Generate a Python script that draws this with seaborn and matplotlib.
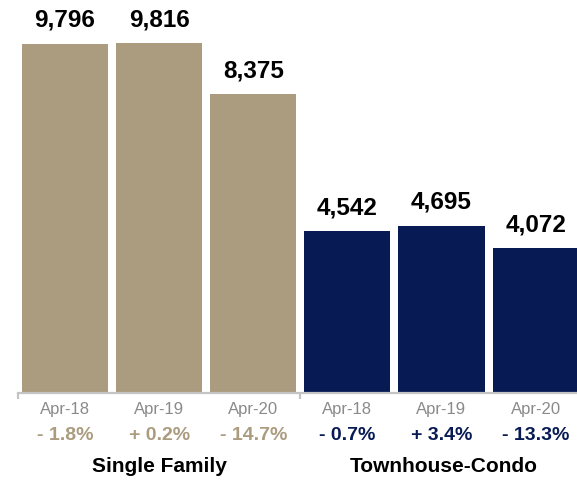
import numpy as np
import matplotlib.pyplot as plt
import matplotlib.transforms as mtransforms
import seaborn as sns
import pandas as pd

# values
groups = ['Single Family', 'Townhouse-Condo']
months = ['Apr-18', 'Apr-19', 'Apr-20']
single_family = [9796, 9816, 8375]
townhouse_condo = [4542, 4695, 4072]
sf_change = ['- 1.8%', '+ 0.2%', '- 14.7%']
tc_change = ['- 0.7%', '+ 3.4%', '- 13.3%']

tan = '#ab9c7f'
navy = '#071a54'

df = pd.DataFrame({
    'key': [g + ' ' + m for g in groups for m in months],
    'value': single_family + townhouse_condo,
    'group': [g for g in groups for m in months],
})

sns.set_style('white')
plt.rcParams['font.family'] = ['Liberation Sans', 'DejaVu Sans']

fig = plt.figure(figsize=(5.77, 4.82), dpi=100)
ax = fig.add_axes([18 / 577, 89 / 482, 1 - 18 / 577, 393 / 482])

sns.barplot(data=df, x='key', y='value', hue='group', palette=[tan, navy],
            dodge=False, width=0.915, saturation=1, legend=False,
            linewidth=0, ax=ax)

ax.set_xlim(-0.5, 5.44)
ax.set_ylim(0, 11021)
ax.set_xlabel('')
ax.set_ylabel('')
ax.set_yticks([])

for i, v in enumerate(df['value']):
    ax.text(i, v + 330, f'{v:,}', ha='center', va='bottom',
            fontsize=17.5, fontweight='bold', color='black')

sns.despine(ax=ax, left=True)
ax.spines['bottom'].set_color('#c4c4c4')
ax.spines['bottom'].set_linewidth(1.6)

ax.set_xticks(range(6))
ax.set_xticklabels([])
ax.tick_params(axis='x', which='major', length=0)
ax.set_xticks([-0.5, 2.5], minor=True)
ax.tick_params(axis='x', which='minor', length=4.5, width=1.6, color='#c4c4c4',
               direction='out', bottom=True)

trans = mtransforms.blended_transform_factory(ax.transData, ax.transAxes)
changes = sf_change + tc_change
for i in range(6):
    ax.text(i, -0.043, months[i % 3], transform=trans, ha='center', va='center',
            fontsize=12, color='#8a8a8a')
    ax.text(i, -0.107, changes[i], transform=trans, ha='center', va='center',
            fontsize=14, fontweight='bold', color=tan if i < 3 else navy)

ax.text(1, -0.188, groups[0], transform=trans, ha='center', va='center',
        fontsize=15, fontweight='bold', color='black')
ax.text(4.02, -0.188, groups[1], transform=trans, ha='center', va='center',
        fontsize=15, fontweight='bold', color='black')

fig.savefig('out.png', dpi=100)
